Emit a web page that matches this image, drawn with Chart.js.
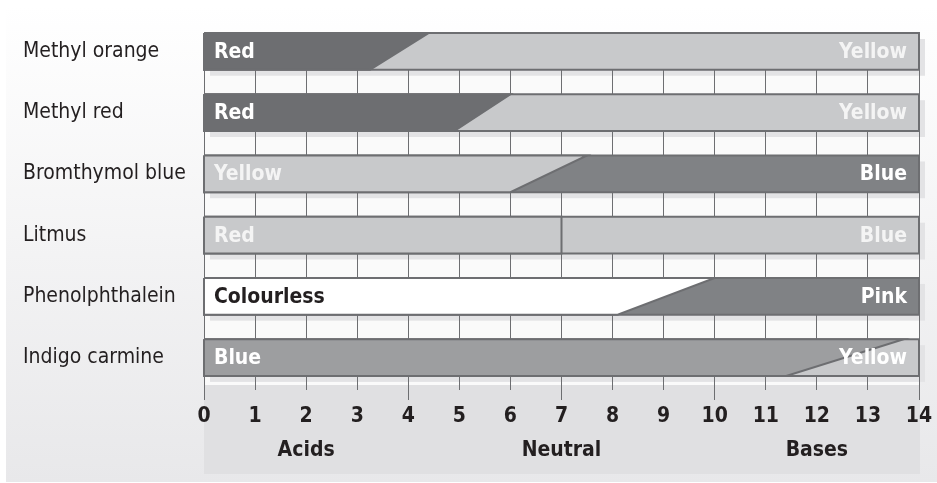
<!DOCTYPE html>
<html>
<head>
<meta charset="utf-8">
<script src="https://cdn.jsdelivr.net/npm/chart.js@4.4.1/dist/chart.umd.min.js"></script>
<style>
  html, body { margin: 0; padding: 0; background: #ffffff; }
  #wrap { width: 937px; height: 483px; }
</style>
</head>
<body>
<div id="wrap"><canvas id="c" width="937" height="483"></canvas></div>
<script>
// ---- data ----
const indicators = ['Methyl orange', 'Methyl red', 'Bromthymol blue', 'Litmus', 'Phenolphthalein', 'Indigo carmine'];
const acidColourNames = ['Red', 'Red', 'Yellow', 'Red', 'Colourless', 'Blue'];
const baseColourNames = ['Yellow', 'Yellow', 'Blue', 'Blue', 'Pink', 'Yellow'];
// pH where the colour change starts (lower edge of bar) and ends (upper edge of bar)
const changeStartPH = [3.25, 4.9, 6.0, 7.0, 8.1, 11.4];
const changeEndPH = [4.4, 6.0, 7.5, 7.0, 10.0, 13.7];
const phTicks = [0, 1, 2, 3, 4, 5, 6, 7, 8, 9, 10, 11, 12, 13, 14];
const majorTicks = [0, 4, 7, 10, 14];
const regionLabels = ['Acids', 'Neutral', 'Bases'];
const regionPH = [2, 7, 12];

// ---- styles ----
const acidShades = ['#6d6e71', '#6d6e71', '#c8c9cb', '#c8c9cb', '#ffffff', '#9d9ea0'];
const baseShades = ['#c8c9cb', '#c8c9cb', '#808285', '#c8c9cb', '#808285', '#c8c9cb'];
const acidTextColours = ['#ffffff', '#ffffff', '#f4f4f4', '#f4f4f4', '#231f20', '#ffffff'];
const baseTextColours = ['#f4f4f4', '#f4f4f4', '#ffffff', '#f4f4f4', '#ffffff', '#ffffff'];
const EDGE = '#6d6e71';
const HALF = 0.3;
const FONT = "'Liberation Sans Narrow', 'DejaVu Sans Condensed', 'Open Sans', sans-serif";
const phMin = phTicks[0], phMax = phTicks[phTicks.length - 1];

// Chart.js paints the first dataset last (on top), so the acid shape goes first.
const datasets = [];
indicators.forEach((name, i) => {
  const top = i - HALF, bot = i + HALF;
  datasets.push({
    label: name + ' acid',
    data: [{x: phMin, y: top}, {x: changeEndPH[i], y: top}, {x: changeStartPH[i], y: bot}, {x: phMin, y: bot}, {x: phMin, y: top}],
    backgroundColor: acidShades[i], borderColor: EDGE, borderWidth: 2,
    fill: 'shape', showLine: true, pointRadius: 0, tension: 0, clip: false, borderJoinStyle: 'miter'
  });
  datasets.push({
    label: name + ' base',
    data: [{x: phMin, y: top}, {x: phMax, y: top}, {x: phMax, y: bot}, {x: phMin, y: bot}, {x: phMin, y: top}],
    backgroundColor: baseShades[i], borderColor: EDGE, borderWidth: 2,
    fill: 'shape', showLine: true, pointRadius: 0, tension: 0, clip: false, borderJoinStyle: 'miter'
  });
});

const backdrop = {
  id: 'backdrop',
  beforeDraw(chart) {
    const {ctx, chartArea: a, scales: {x, y}} = chart;
    ctx.save();
    const g = ctx.createLinearGradient(0, 6, 0, 482);
    g.addColorStop(0, '#ffffff');
    g.addColorStop(1, '#e8e8ea');
    ctx.fillStyle = g;
    ctx.fillRect(6, 6, chart.width - 6, 476);
    ctx.fillStyle = '#fafafa';
    ctx.fillRect(a.left, a.top, a.right - a.left, a.bottom - a.top);
    ctx.fillStyle = '#e0e0e2';
    ctx.fillRect(a.left, a.bottom - 5, a.right - a.left + 1, chart.height - 9 - (a.bottom - 5));
    ctx.fillStyle = '#e3e3e5';
    indicators.forEach((n, i) => {
      const l = x.getPixelForValue(phMin), r = x.getPixelForValue(phMax);
      const t = y.getPixelForValue(i - HALF), b = y.getPixelForValue(i + HALF);
      ctx.fillRect(l + 6, t + 6, r - l, b - t);
    });
    ctx.restore();
  }
};

const barText = {
  id: 'barText',
  afterDatasetsDraw(chart) {
    const {ctx, scales: {x, y}} = chart;
    ctx.save();
    ctx.font = 'bold 21px ' + FONT;
    ctx.textBaseline = 'middle';
    indicators.forEach((n, i) => {
      const cy = y.getPixelForValue(i) + 1;
      ctx.textAlign = 'left';
      ctx.fillStyle = acidTextColours[i];
      ctx.fillText(acidColourNames[i], x.getPixelForValue(phMin) + 10, cy);
      ctx.textAlign = 'right';
      ctx.fillStyle = baseTextColours[i];
      ctx.fillText(baseColourNames[i], x.getPixelForValue(phMax) - 12, cy);
    });
    ctx.restore();
  }
};

new Chart(document.getElementById('c'), {
  type: 'scatter',
  data: {datasets},
  options: {
    responsive: false,
    animation: false,
    events: [],
    layout: {padding: {left: 23, top: 33, right: 18, bottom: 0}},
    plugins: {legend: {display: false}, tooltip: {enabled: false}},
    scales: {
      x: {
        type: 'linear', min: phMin, max: phMax,
        afterBuildTicks: s => { s.ticks = phTicks.map(v => ({value: v})); },
        afterFit: s => { s.height = 93; },
        border: {display: false},
        grid: {
          color: EDGE, lineWidth: 1, drawTicks: true, tickLength: 10,
          tickColor: c => (c.tick && majorTicks.includes(c.tick.value)) ? EDGE : 'rgba(0,0,0,0)'
        },
        ticks: {
          padding: 0, color: '#231f20',
          font: {family: FONT, size: 21, weight: 'bold', lineHeight: 1.6},
          maxRotation: 0, autoSkip: false,
          callback: v => {
            const k = regionPH.indexOf(v);
            return k >= 0 ? [String(v), regionLabels[k]] : String(v);
          }
        }
      },
      y: {
        type: 'linear', reverse: true, min: -HALF, max: 5.53,
        afterBuildTicks: s => { s.ticks = indicators.map((n, i) => ({value: i})); },
        afterFit: s => { s.width = 181; },
        border: {display: false},
        grid: {display: false},
        ticks: {
          crossAlign: 'far', color: '#231f20', padding: 0,
          font: {family: FONT, size: 21},
          callback: v => indicators[v]
        }
      }
    }
  },
  plugins: [backdrop, barText]
});
</script>
</body>
</html>
